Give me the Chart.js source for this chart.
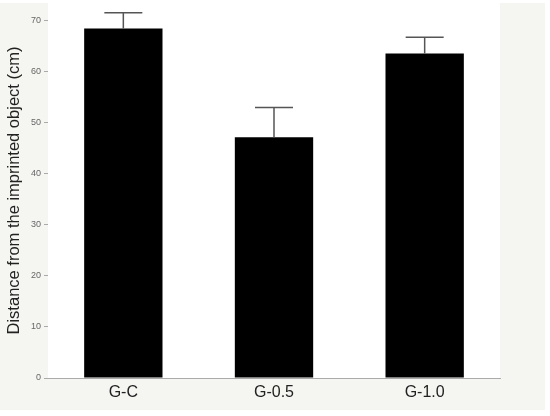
<!DOCTYPE html>
<html lang="en">
<head>
    <meta charset="UTF-8">
    <title>Distance from the imprinted object</title>
    <script src="https://cdn.jsdelivr.net/npm/chart.js"></script>
    <style>
        body {
            margin: 0;
            background: #ffffff;
        }
        .chart-container {
            width: 550px;
            height: 416px;
            position: relative;
        }
    </style>
</head>
<body>
    <div class="chart-container">
        <canvas id="barChart"></canvas>
    </div>

    <script>
        const groups = ['G-C', 'G-0.5', 'G-1.0'];
        const means = [68.5, 47.2, 63.6];
        const errors = [3.1, 5.8, 3.2];
        const yTicks = [0, 10, 20, 30, 40, 50, 60, 70];

        // beige page behind the white plot area
        const backgroundPlugin = {
            id: 'background',
            beforeDraw(chart) {
                const ctx = chart.ctx;
                const area = chart.chartArea;
                ctx.save();
                ctx.fillStyle = '#f5f5f1';
                ctx.fillRect(0, 3, 545, 407);
                ctx.fillStyle = '#ffffff';
                ctx.fillRect(area.left, 0, area.right - area.left, area.bottom);
                ctx.restore();
            }
        };

        // upper error bars (SD)
        const errorBarPlugin = {
            id: 'errorBars',
            afterDatasetsDraw(chart) {
                const ctx = chart.ctx;
                const y = chart.scales.y;
                const meta = chart.getDatasetMeta(0);
                ctx.save();
                ctx.strokeStyle = '#555555';
                ctx.lineWidth = 1.5;
                meta.data.forEach((bar, i) => {
                    const top = y.getPixelForValue(means[i] + errors[i]);
                    const base = y.getPixelForValue(means[i]);
                    ctx.beginPath();
                    ctx.moveTo(bar.x, base);
                    ctx.lineTo(bar.x, top);
                    ctx.moveTo(bar.x - 19, top);
                    ctx.lineTo(bar.x + 19, top);
                    ctx.stroke();
                });
                ctx.restore();
            }
        };

        const ctx = document.getElementById('barChart').getContext('2d');
        const chart = new Chart(ctx, {
            type: 'bar',
            data: {
                labels: groups,
                datasets: [{
                    data: means,
                    backgroundColor: '#000000',
                    borderWidth: 0,
                    barPercentage: 0.52,
                    categoryPercentage: 1.0
                }]
            },
            options: {
                responsive: true,
                maintainAspectRatio: false,
                animation: false,
                layout: {
                    padding: { top: 3, right: 50, bottom: 0, left: 0 }
                },
                plugins: {
                    legend: { display: false },
                    tooltip: { enabled: false }
                },
                scales: {
                    x: {
                        grid: { display: false, drawTicks: false },
                        border: { display: true, color: '#aaaaaa', width: 1 },
                        ticks: {
                            color: '#222222',
                            padding: 5,
                            font: { family: 'Liberation Sans, Arial, sans-serif', size: 16 }
                        },
                        afterFit(scale) {
                            scale.height = 38;
                        }
                    },
                    y: {
                        min: 0,
                        max: 73.5,
                        afterBuildTicks(scale) {
                            scale.ticks = yTicks.map(v => ({ value: v }));
                        },
                        grid: {
                            drawOnChartArea: false,
                            drawTicks: true,
                            tickLength: 4,
                            color: '#aaaaaa'
                        },
                        border: { display: false },
                        ticks: {
                            color: '#666666',
                            padding: 3,
                            font: { family: 'Liberation Sans, Arial, sans-serif', size: 9 }
                        },
                        title: {
                            display: true,
                            text: 'Distance from the imprinted object (cm)',
                            color: '#222222',
                            padding: { top: 5, bottom: 0 },
                            font: { family: 'Liberation Sans, Arial, sans-serif', size: 16.5 }
                        },
                        afterFit(scale) {
                            scale.width = 48;
                            scale.paddingTop = 0;
                            scale.paddingBottom = 0;
                        }
                    }
                }
            },
            plugins: [backgroundPlugin, errorBarPlugin]
        });
    </script>
</body>
</html>
